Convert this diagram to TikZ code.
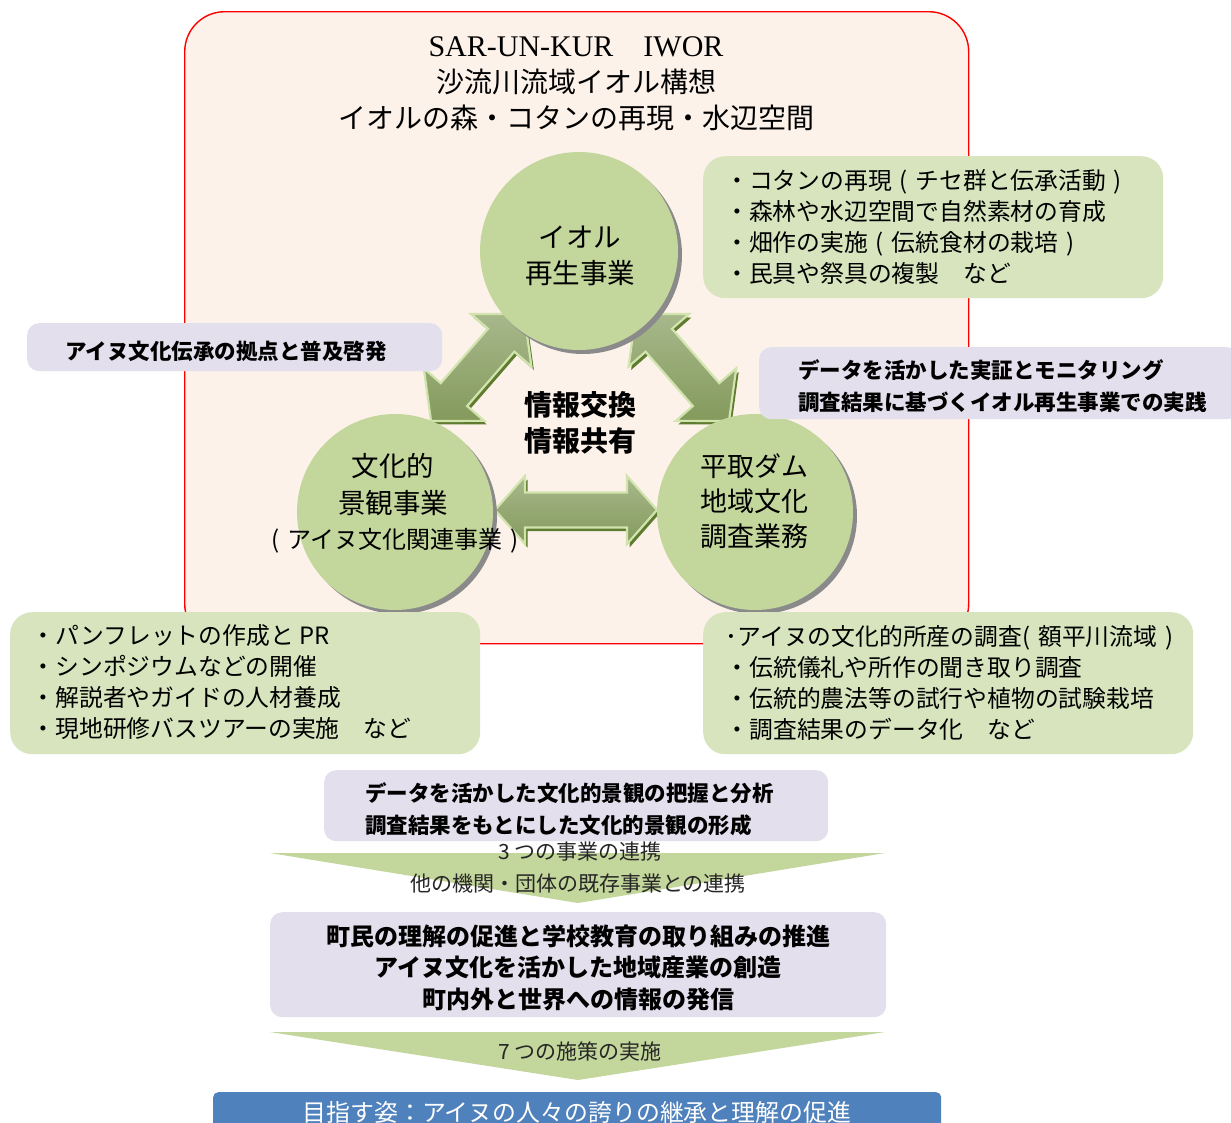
\documentclass[tikz,border=0pt]{standalone}
\usepackage{fontspec}
\setmainfont{Liberation Serif}
\newfontfamily\jp{Noto Sans CJK JP}
\definecolor{peach}{HTML}{FDF2EA}
\definecolor{cgreen}{HTML}{C3D69B}
\definecolor{bgreen}{HTML}{D7E4BD}
\definecolor{lav}{HTML}{E4DFEC}
\definecolor{goalblue}{HTML}{4F81BD}
\definecolor{arrdark}{HTML}{5E7B2F}
\definecolor{arrrim}{HTML}{D2E4AE}
\definecolor{arrtop}{HTML}{A7B88B}
\definecolor{arrbot}{HTML}{849A5C}
\definecolor{shad}{HTML}{8A8A8A}
\definecolor{chevtxt}{HTML}{262626}
\newcommand\lpar{\makebox[1em]{(}}
\newcommand\rpar{\makebox[1em]{)}}
\newcommand\dblarrow[6]{%
  \begin{scope}[shift={(#1+2.5,#2+3.5)}, rotate=#3]
    \fill[arrdark] (0,0) -- (#5,-#6) -- (#5,-17.5) -- ({#4-#5},-17.5) -- ({#4-#5},-#6) -- (#4,0) -- ({#4-#5},#6) -- ({#4-#5},17.5) -- (#5,17.5) -- (#5,#6) -- cycle;
  \end{scope}
  \begin{scope}[shift={(#1,#2)}, rotate=#3]
    \path[top color=arrtop, bottom color=arrbot, draw=arrrim, line width=2.2, line join=miter] (0,0) -- (#5,-#6) -- (#5,-17.5) -- ({#4-#5},-17.5) -- ({#4-#5},-#6) -- (#4,0) -- ({#4-#5},#6) -- ({#4-#5},17.5) -- (#5,17.5) -- (#5,#6) -- cycle;
  \end{scope}}
\tikzset{
  gbox/.style={fill=bgreen, rounded corners=22, inner sep=0, anchor=north west},
  lbox/.style={fill=lav, rounded corners=12, inner sep=0, anchor=north west},
  listtxt/.style={font=\jp\fontsize{23.8}{31}\selectfont, align=left, anchor=west, inner sep=0},
  boldtxt/.style={font=\jp\bfseries\fontsize{21.5}{32}\selectfont, align=left, anchor=west, inner sep=0},
  bigtxt/.style={font=\jp\bfseries\fontsize{24}{31.5}\selectfont, align=center, inner sep=0},
  circ/.style={circle, fill=cgreen, inner sep=0, minimum size=#1},
  circsh/.style={circle, fill=shad, inner sep=0, minimum size=#1},
  ctxt/.style={font=\jp\fontsize{27.5}{36}\selectfont, align=center, inner sep=0},
  chevlabel/.style={font=\jp\fontsize{21}{21}\selectfont, text=chevtxt, inner sep=0},
  titlejp/.style={font=\jp\fontsize{28}{28}\selectfont, inner sep=0},
  chev/.style={fill=cgreen},
}
\begin{document}
\begin{tikzpicture}[x=1pt,y=-1pt]
\useasboundingbox (0,0) rectangle (1231,1122);
\clip (0,0) rectangle (1231,1122);
\fill[white] (0,0) rectangle (1231,1122);

% frame
\node[draw=red, line width=1.4, fill=peach, rounded corners=40, minimum width=784, minimum height=632, anchor=north west, inner sep=0] (frame) at (184,11) {};

% titles
\node[font=\fontsize{30}{30}\selectfont, inner sep=0] (title1) at (576,47) {SAR-UN-KUR\hspace{1em}IWOR};
\node[titlejp] (title2) at (576,82) {沙流川流域イオル構想};
\node[titlejp] (title3) at (576,118) {イオルの森・コタンの再現・水辺空間};

% arrows
\dblarrow{431}{421}{49}{142}{35}{40}
\dblarrow{729}{421}{131}{142}{35}{40}
\dblarrow{495}{510}{0}{162}{30}{34}

% circles
\node[circsh=198] (c1s) at (583,255) {};
\node[circ=198] (c1) at (579,251) {};
\node[circsh=196] (c2s) at (399,516) {};
\node[circ=196] (c2) at (395,512) {};
\node[circsh=196] (c3s) at (759,516) {};
\node[circ=196] (c3) at (755,512) {};

\node[ctxt] (c1t) at (580,256) {イオル\\再生事業};
\node[ctxt, font=\jp\fontsize{27.5}{37}\selectfont] (c2t) at (393,484.5) {文化的\\景観事業};
\node[font=\jp\fontsize{24}{24}\selectfont, inner sep=0] (c2t2) at (395,541) {\lpar アイヌ文化関連事業\rpar};
\node[ctxt, font=\jp\fontsize{27}{35}\selectfont] (c3t) at (754,501) {平取ダム\\地域文化\\調査業務};
\node[ctxt, font=\jp\bfseries\fontsize{28}{36}\selectfont] (center) at (580,423) {情報交換\\情報共有};

% top-right box
\node[gbox, minimum width=460, minimum height=142] (boxtr) at (703,156) {};
\node[listtxt] (txttr) at (725,226.5) {・コタンの再現\lpar チセ群と伝承活動\rpar\\・森林や水辺空間で自然素材の育成\\・畑作の実施\lpar 伝統食材の栽培\rpar\\・民具や祭具の複製　など};

% left lavender
\node[lbox, minimum width=415, minimum height=48] (boxl) at (27,323) {};
\node[boldtxt] (txtl) at (65,351) {アイヌ文化伝承の拠点と普及啓発};

% right lavender
\node[lbox, minimum width=480, minimum height=72] (boxr) at (759,347) {};
\node[boldtxt] (txtr) at (798,386.5) {データを活かした実証とモニタリング\\調査結果に基づくイオル再生事業での実践};

% bottom-left box
\node[gbox, minimum width=470, minimum height=142] (boxbl) at (10,612) {};
\node[listtxt] (txtbl) at (31.5,682.5) {・パンフレットの作成と PR\\・シンポジウムなどの開催\\・解説者やガイドの人材養成\\・現地研修バスツアーの実施　など};

% bottom-right box
\node[gbox, minimum width=490, minimum height=142] (boxbr) at (703,612) {};
\node[listtxt] (txtbr) at (725.5,682.5) {･アイヌの文化的所産の調査(\hspace{0.35em}額平川流域\hspace{0.35em})\\・伝統儀礼や所作の聞き取り調査\\・伝統的農法等の試行や植物の試験栽培\\・調査結果のデータ化　など};

% middle lavender
\node[lbox, minimum width=504, minimum height=71] (boxm) at (324,770) {};
\node[boldtxt] (txtm) at (365,809) {データを活かした文化的景観の把握と分析\\調査結果をもとにした文化的景観の形成};

% chevron 1
\fill[chev] (270,853) -- (885,853) -- (578,903) -- cycle;
\node[chevlabel] (chev1a) at (580,852) {3 つの事業の連携};
\node[chevlabel] (chev1b) at (578,884) {他の機関・団体の既存事業との連携};

% big lavender
\node[lbox, minimum width=616, minimum height=105] (boxbig) at (270,912) {};
\node[bigtxt] (txtbig) at (578,967.5) {町民の理解の促進と学校教育の取り組みの推進\\アイヌ文化を活かした地域産業の創造\\町内外と世界への情報の発信};

% chevron 2
\fill[chev] (270,1032) -- (885,1032) -- (578,1080) -- cycle;
\node[chevlabel] (chev2) at (580,1051) {7 つの施策の実施};

% goal bar
\node[fill=goalblue, rounded corners=5, minimum width=728, minimum height=50, anchor=north west, inner sep=0] (goal) at (213,1092) {};
\node[font=\jp\fontsize{23.9}{24}\selectfont, text=white, inner sep=0] (goaltxt) at (577,1112) {目指す姿：アイヌの人々の誇りの継承と理解の促進};
\end{tikzpicture}
\end{document}
